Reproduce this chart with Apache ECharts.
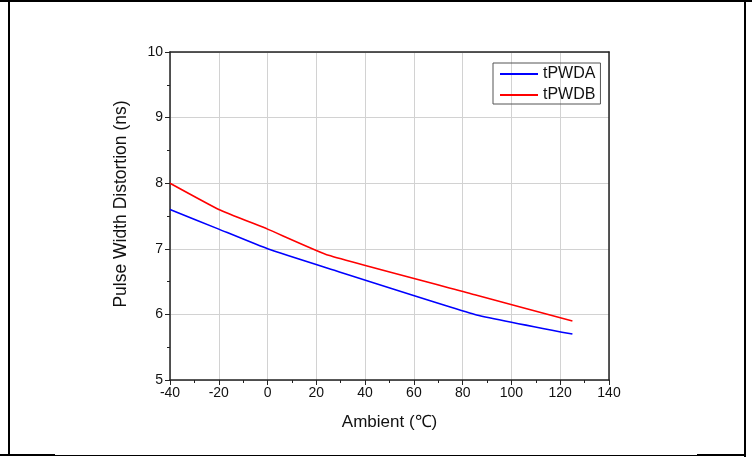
<!DOCTYPE html>
<html>
<head>
<meta charset="utf-8">
<script src="https://cdn.jsdelivr.net/npm/echarts@6/dist/echarts.min.js"></script>
<style>
  html, body { margin: 0; padding: 0; background: #fff; }
  #chart { width: 752px; height: 457px; }
</style>
</head>
<body>
<div id="chart"></div>
<script>
// Ambient temperature (°C) at each measurement
const ambientA = [-40, -20, 0, 25, 85, 125];
const ambientB = [-40, -20, 0, 25, 85, 125];
// Pulse width distortion (ns)
const tPWDA = [7.6, 7.3, 7.0, 6.7, 6.0, 5.7];
const tPWDB = [8.0, 7.6, 7.3, 6.9, 6.3, 5.9];
const seriesNames = ['tPWDA', 'tPWDB'];
const xTitle = 'Ambient (\u2103)';
const yTitle = 'Pulse Width Distortion (ns)';

const FONT = '"Liberation Sans", Arial, sans-serif';
const chart = echarts.init(document.getElementById('chart'), null, { renderer: 'canvas' });

const pairs = (xs, ys) => xs.map((x, i) => [x, ys[i]]);

chart.setOption({
  animation: false,
  backgroundColor: '#fff',
  textStyle: { fontFamily: FONT },
  grid: { left: 170, top: 52, right: 143, bottom: 77 },
  legend: {
    orient: 'vertical',
    left: 493,
    top: 63,
    padding: [3, 5, 1, 6],
    itemGap: 5,
    itemWidth: 38,
    itemHeight: 14,
    itemTextGap: 4,
    borderColor: '#555',
    borderWidth: 1,
    itemStyle: { opacity: 0 },
    data: seriesNames,
    textStyle: { fontSize: 16, color: '#111', fontFamily: FONT }
  },
  xAxis: [{
    type: 'value',
    min: -40, max: 140, interval: 20,
    name: xTitle,
    nameLocation: 'middle',
    nameGap: 34,
    nameTextStyle: { fontSize: 17, color: '#111', fontFamily: FONT },
    axisLine: { show: true, onZero: false, lineStyle: { color: '#222', width: 1.5 } },
    axisTick: { show: true, length: 5, lineStyle: { color: '#222' } },
    minorTick: { show: true, splitNumber: 2, length: 3, lineStyle: { color: '#222' } },
    axisLabel: { fontSize: 14, color: '#111', margin: 6, fontFamily: FONT },
    splitLine: { show: true, lineStyle: { color: '#d2d2d2', width: 1 } }
  }, {
    type: 'value',
    position: 'top',
    min: -40, max: 140,
    axisLine: { show: true, onZero: false, lineStyle: { color: '#222', width: 1.5 } },
    axisTick: { show: false },
    axisLabel: { show: false },
    splitLine: { show: false }
  }],
  yAxis: [{
    type: 'value',
    min: 5, max: 10, interval: 1,
    name: yTitle,
    nameLocation: 'middle',
    nameGap: 40,
    nameTextStyle: { fontSize: 17.5, color: '#111', fontFamily: FONT, padding: [0, 0, 0, 24] },
    axisLine: { show: true, onZero: false, lineStyle: { color: '#222', width: 1.5 } },
    axisTick: { show: true, length: 5, lineStyle: { color: '#222' } },
    minorTick: { show: true, splitNumber: 2, length: 3, lineStyle: { color: '#222' } },
    axisLabel: { fontSize: 14, color: '#111', margin: 7, fontFamily: FONT },
    splitLine: { show: true, lineStyle: { color: '#d2d2d2', width: 1 } }
  }, {
    type: 'value',
    position: 'right',
    min: 5, max: 10,
    axisLine: { show: true, onZero: false, lineStyle: { color: '#222', width: 1.5 } },
    axisTick: { show: false },
    axisLabel: { show: false },
    splitLine: { show: false }
  }],
  series: [{
    name: seriesNames[0],
    type: 'line',
    data: pairs(ambientA, tPWDA),
    symbol: 'none',
    smooth: 0.12,
    color: '#0000ff',
    lineStyle: { color: '#0000ff', width: 1.6 }
  }, {
    name: seriesNames[1],
    type: 'line',
    data: pairs(ambientB, tPWDB),
    symbol: 'none',
    smooth: 0.12,
    color: '#ff0000',
    lineStyle: { color: '#ff0000', width: 1.6 }
  }],
  graphic: [
    // page frame
    { type: 'rect', shape: { x: 0, y: 0, width: 752, height: 2 }, style: { fill: '#000' } },
    { type: 'rect', shape: { x: 8, y: 0, width: 2, height: 456 }, style: { fill: '#000' } },
    { type: 'rect', shape: { x: 744, y: 0, width: 2, height: 457 }, style: { fill: '#000' } },
    { type: 'rect', shape: { x: 0, y: 454, width: 55, height: 2 }, style: { fill: '#000' } },
    { type: 'rect', shape: { x: 55, y: 455, width: 642, height: 1 }, style: { fill: '#000' } },
    { type: 'rect', shape: { x: 697, y: 454, width: 49, height: 2 }, style: { fill: '#000' } }
  ]
});
</script>
</body>
</html>
